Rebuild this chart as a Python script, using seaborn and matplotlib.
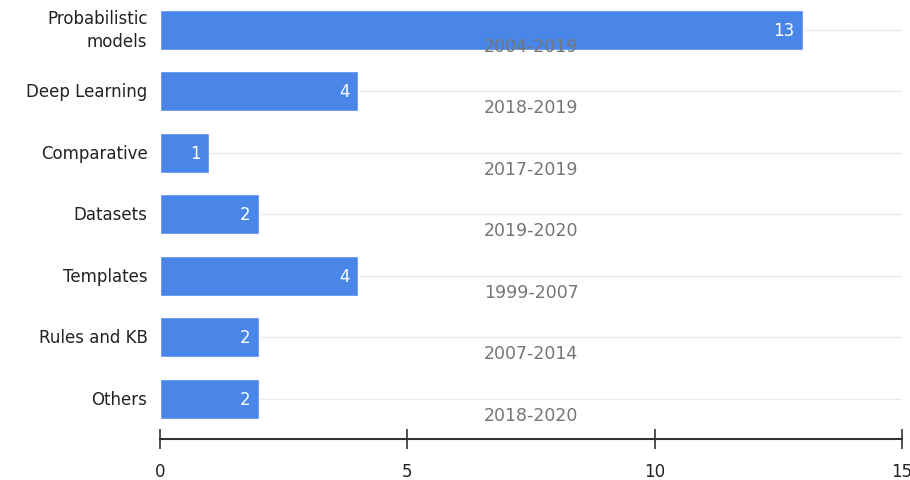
import matplotlib
matplotlib.use("Agg")
import matplotlib.pyplot as plt
import seaborn as sns
import pandas as pd

# Data
categories = ["Probabilistic\nmodels", "Deep Learning", "Comparative", "Datasets",
              "Templates", "Rules and KB", "Others"]
counts = [13, 4, 1, 2, 4, 2, 2]
year_ranges = ["2004-2019", "2018-2019", "2017-2019", "2019-2020",
               "1999-2007", "2007-2014", "2018-2020"]

df = pd.DataFrame({"category": categories, "count": counts, "years": year_ranges})

sns.set_style("white")
plt.rcParams["font.family"] = ["DejaVu Sans"]

fig = plt.figure(figsize=(9.1, 4.81), dpi=100)
ax = fig.add_axes([160 / 910, 1 - 440 / 481, 742 / 910, 440 / 481])

sns.barplot(data=df, y="category", x="count", color="#4a86e8", saturation=1,
            width=0.65, ax=ax, zorder=3)

# light gridlines through each row
for i in range(len(categories)):
    ax.axhline(i, color="#ebebeb", lw=1, zorder=1)

# value labels inside bar ends
for i, v in enumerate(counts):
    ax.text(v - 0.17, i, str(v), color="white", ha="right", va="center",
            fontsize=12, zorder=4)

# year range labels
for i, yr in enumerate(year_ranges):
    ax.text(7.5, i + 0.26, yr, color="#757575", ha="center", va="center",
            fontsize=12.5, zorder=5)

ax.set_xlim(0, 15)
ax.set_ylim(len(categories) - 0.35, -0.5)
ax.set_xticks([0, 5, 10, 15])
ax.set_xlabel("")
ax.set_ylabel("")

for s in ["top", "right", "left"]:
    ax.spines[s].set_visible(False)
ax.spines["bottom"].set_color("#333333")
ax.spines["bottom"].set_linewidth(1.5)
ax.tick_params(axis="x", bottom=True, direction="inout", length=15, width=1.2,
               color="#333333", labelsize=12, labelcolor="#222222", pad=9)
ax.tick_params(axis="y", left=False, length=0, labelsize=12, labelcolor="#222222", pad=9)
for lbl in ax.get_yticklabels():
    lbl.set_multialignment("right")
    lbl.set_linespacing(1.35)
    lbl.set_verticalalignment("center")

fig.savefig("out.png", dpi=100)
